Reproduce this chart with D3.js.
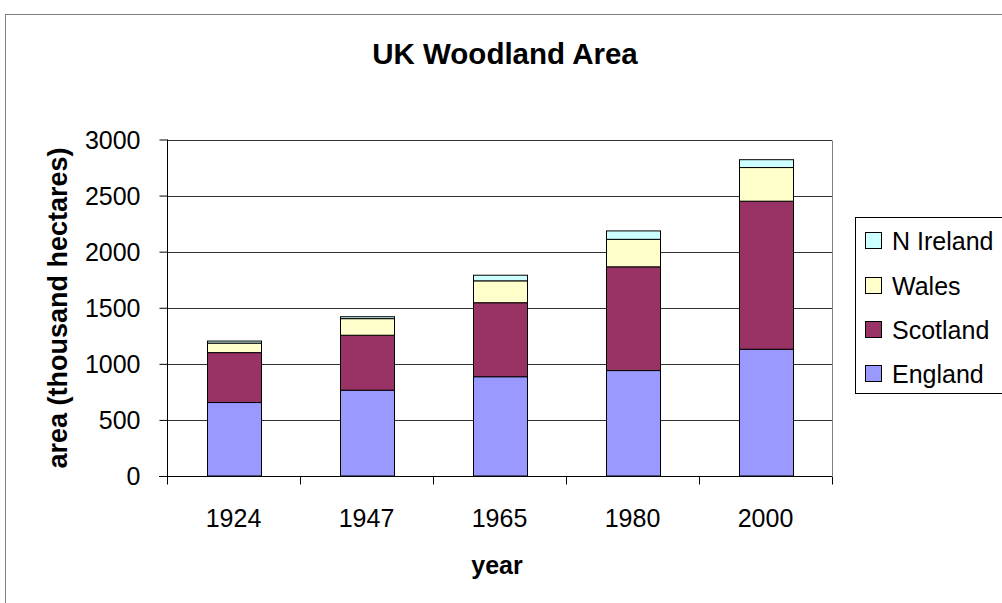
<!DOCTYPE html>
<html>
<head>
<meta charset="utf-8">
<script src="https://cdn.jsdelivr.net/npm/d3@7/dist/d3.min.js"></script>
<style>
  html, body { margin: 0; padding: 0; background: #fff; }
  svg { display: block; font-family: "Liberation Sans", Arial, sans-serif; }
</style>
</head>
<body>
<svg id="chart" width="1002" height="603"></svg>
<script>
const years = ["1924", "1947", "1965", "1980", "2000"];
const england = [655, 765, 885, 940, 1130];
const scotland = [445, 490, 660, 925, 1320];
const wales = [85, 148, 195, 245, 300];
const nIreland = [18, 17, 50, 75, 70];
const seriesNames = ["England", "Scotland", "Wales", "N Ireland"];
const seriesColors = ["#9999FF", "#993366", "#FFFFCC", "#CCFFFF"];
const yTicks = [0, 500, 1000, 1500, 2000, 2500, 3000];

(function () {
const rows = years.map((y, i) => ({
  year: y, "England": england[i], "Scotland": scotland[i], "Wales": wales[i], "N Ireland": nIreland[i]
}));

const svg = d3.select("#chart");
const pLeft = 167, pRight = 832, pTop = 139.5, pBottom = 476;

// outer chart border
svg.append("rect").attr("x", 5.5).attr("y", 14.5).attr("width", 1010).attr("height", 620)
  .attr("fill", "#fff").attr("stroke", "#808080").attr("stroke-width", 1);

const x = d3.scaleBand().domain(years).range([pLeft, pRight]).padding(0);
const y = d3.scaleLinear().domain([0, 3000]).range([pBottom, pTop]);

// gridlines
svg.append("g").selectAll("line").data(yTicks.filter(t => t > 0)).join("line")
  .attr("x1", pLeft).attr("x2", pRight)
  .attr("y1", d => Math.round(y(d)) + 0.5).attr("y2", d => Math.round(y(d)) + 0.5)
  .attr("stroke", "#333").attr("stroke-width", 1);

// plot area right border
svg.append("line").attr("x1", pRight + 0.5).attr("x2", pRight + 0.5)
  .attr("y1", Math.round(pTop) + 0.5).attr("y2", pBottom).attr("stroke", "#808080");

// stacked bars
const stacked = d3.stack().keys(seriesNames)(rows);
const barFrac = 0.406;
const bw = x.bandwidth() * barFrac;
const off = (x.bandwidth() - bw) / 2;
svg.append("g").selectAll("g").data(stacked).join("g")
  .attr("fill", (d, i) => seriesColors[i])
  .selectAll("rect").data(d => d).join("rect")
  .attr("x", d => Math.round(x(d.data.year) + off) + 0.5)
  .attr("width", Math.round(bw))
  .attr("y", d => y(d[1]))
  .attr("height", d => y(d[0]) - y(d[1]))
  .attr("stroke", "#000").attr("stroke-width", 1);

// y axis
const yAxis = d3.axisLeft(y).tickValues(yTicks).tickSize(8).tickPadding(19).tickFormat(d3.format("d"));
const gy = svg.append("g").attr("transform", `translate(${pLeft + 0.5},0)`).call(yAxis);
gy.select(".domain").attr("stroke", "#000").attr("d", `M0,${pTop}V${pBottom}`);
gy.selectAll(".tick line").attr("stroke", "#000");
gy.selectAll("text").attr("font-size", 25).attr("fill", "#000")
  .attr("font-family", "'Liberation Sans', Arial, sans-serif").attr("dy", "0.35em");

// x axis
const gx = svg.append("g").attr("transform", `translate(0,${pBottom + 0.5})`);
gx.append("line").attr("x1", pLeft - 8).attr("x2", pRight).attr("y1", 0).attr("y2", 0).attr("stroke", "#000");
const bounds = years.map(d => x(d)).concat([pRight]);
gx.selectAll("line.tk").data(bounds).join("line").attr("class", "tk")
  .attr("x1", d => Math.round(d) + 0.5).attr("x2", d => Math.round(d) + 0.5)
  .attr("y1", 0).attr("y2", 8).attr("stroke", "#000");
gx.selectAll("text").data(years).join("text")
  .attr("x", d => x(d) + x.bandwidth() / 2).attr("y", 50)
  .attr("text-anchor", "middle").attr("font-size", 25).attr("fill", "#000")
  .text(d => d);

// titles
svg.append("text").attr("x", 505).attr("y", 64).attr("text-anchor", "middle")
  .attr("font-size", 29.5).attr("font-weight", "bold").attr("fill", "#000").text("UK Woodland Area");
svg.append("text").attr("x", 497).attr("y", 574).attr("text-anchor", "middle")
  .attr("font-size", 25).attr("font-weight", "bold").attr("fill", "#000").text("year");
svg.append("text").attr("transform", "translate(67,308) rotate(-90)").attr("text-anchor", "middle")
  .attr("font-size", 27).attr("font-weight", "bold").attr("fill", "#000").text("area (thousand hectares)");

// legend
const lg = svg.append("g");
lg.append("rect").attr("x", 855.5).attr("y", 217.5).attr("width", 150).attr("height", 176)
  .attr("fill", "#fff").attr("stroke", "#000");
const legendOrder = [3, 2, 1, 0];
const legendY = [241, 286, 330, 374];
legendOrder.forEach((si, k) => {
  lg.append("rect").attr("x", 865.5).attr("y", legendY[k] - 8.5).attr("width", 16).attr("height", 16)
    .attr("fill", seriesColors[si]).attr("stroke", "#000");
  lg.append("text").attr("x", 892).attr("y", legendY[k]).attr("dy", "0.36em")
    .attr("font-size", 25).attr("fill", "#000").text(seriesNames[si]);
});
})();
</script>
</body>
</html>
